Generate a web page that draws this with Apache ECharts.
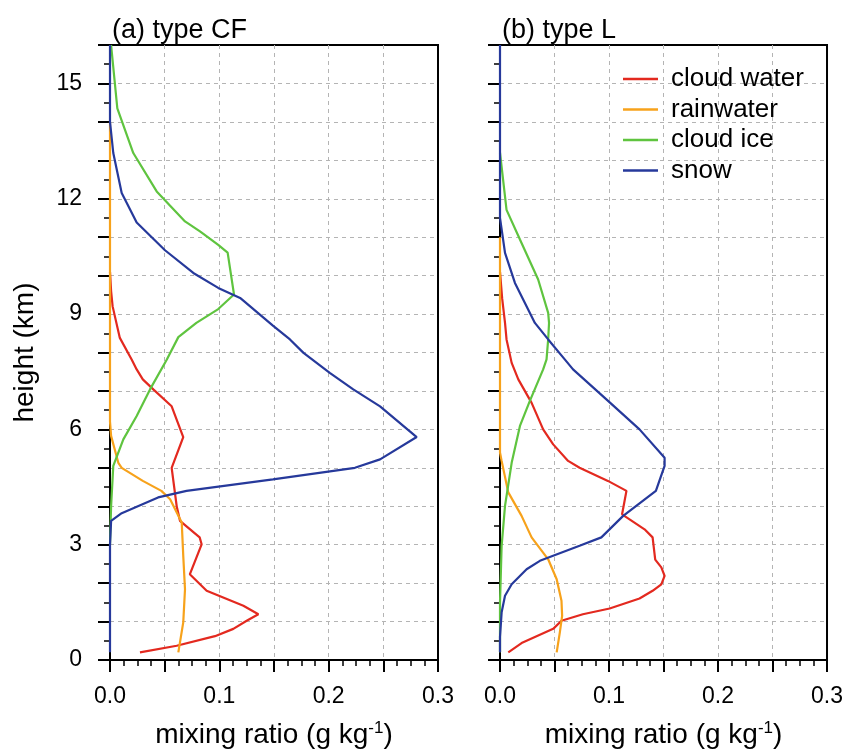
<!DOCTYPE html>
<html>
<head>
<meta charset="utf-8">
<script src="https://cdn.jsdelivr.net/npm/echarts@6/dist/echarts.min.js"></script>
<style>
  html, body { margin: 0; padding: 0; background: #fff; }
  #main { width: 846px; height: 754px; }
</style>
</head>
<body>
<div id="main"></div>
<script>
// [mixing ratio (g/kg), height (km)], top to bottom
var cfWater = [[0,10.1],[0.001,9.6],[0.0024,9.2],[0.009,8.38],[0.0198,7.82],[0.0244,7.56],[0.030,7.3],[0.0396,7.04],[0.0564,6.6],[0.067,5.8],[0.0564,5.0],[0.061,4.0],[0.064,3.62],[0.082,3.19],[0.0838,3.01],[0.073,2.23],[0.0884,1.80],[0.122,1.41],[0.1357,1.19],[0.125,1.02],[0.1128,0.81],[0.096,0.62],[0.061,0.37],[0.0274,0.20]];
var cfRain = [[0,14],[0,6.2],[0.001,5.83],[0.0076,5.13],[0.0107,5.0],[0.030,4.66],[0.047,4.40],[0.055,4.18],[0.0656,3.58],[0.067,2.71],[0.0686,1.84],[0.067,0.98],[0.0625,0.20]];
var cfIce = [[0.001,16],[0.0067,14.35],[0.0213,13.19],[0.0427,12.19],[0.0686,11.41],[0.0823,11.15],[0.099,10.8],[0.1076,10.6],[0.1134,9.51],[0.099,9.13],[0.079,8.77],[0.0625,8.4],[0.052,7.82],[0.0366,7.04],[0.0244,6.35],[0.0122,5.74],[0.003,5.05],[0.001,4.0],[0,3.0]];
var cfSnow = [[0,16],[0,14.0],[0.003,13.19],[0.0107,12.15],[0.0244,11.38],[0.0503,10.66],[0.0762,10.07],[0.099,9.68],[0.119,9.42],[0.149,8.7],[0.1646,8.34],[0.177,7.99],[0.201,7.47],[0.2225,7.04],[0.247,6.6],[0.2805,5.8],[0.247,5.22],[0.224,5.0],[0.149,4.70],[0.070,4.40],[0.044,4.23],[0.0107,3.82],[0.001,3.62],[0,3.0],[0,0.2]];

var lWater = [[0,10.1],[0.002,9.4],[0.0046,8.77],[0.006,8.34],[0.0107,7.73],[0.0168,7.3],[0.029,6.69],[0.0396,6.0],[0.0488,5.61],[0.0625,5.18],[0.073,5.0],[0.099,4.66],[0.116,4.40],[0.112,3.79],[0.1326,3.40],[0.140,3.19],[0.1424,2.61],[0.148,2.41],[0.151,2.19],[0.148,1.97],[0.140,1.80],[0.128,1.60],[0.1006,1.34],[0.076,1.19],[0.0564,1.02],[0.0488,0.81],[0.0198,0.44],[0.0076,0.20]];
var lRain = [[0,11],[0,5.4],[0.0015,5.18],[0.0076,4.36],[0.0198,3.75],[0.029,3.19],[0.0442,2.62],[0.052,2.10],[0.0564,1.54],[0.057,1.15],[0.0549,0.72],[0.052,0.20]];
var lIce = [[0,13.2],[0.006,11.71],[0.0183,10.94],[0.035,9.9],[0.0442,9.03],[0.045,8.77],[0.0442,8.34],[0.0427,7.82],[0.0396,7.56],[0.0274,6.74],[0.0183,6.09],[0.0107,5.13],[0.0046,4.01],[0.0015,2.97],[0,1.5],[0,0.2]];
var lSnow = [[0,16],[0,11.5],[0.0046,10.59],[0.0137,9.81],[0.032,8.77],[0.0442,8.34],[0.0594,7.82],[0.067,7.56],[0.0976,6.78],[0.128,6.0],[0.151,5.26],[0.151,5.05],[0.143,4.40],[0.113,3.75],[0.093,3.19],[0.073,2.97],[0.0366,2.58],[0.0244,2.36],[0.0107,1.97],[0.0046,1.67],[0.0015,1.24],[0,0.6],[0,0.2]];

var names = ['cloud water', 'rainwater', 'cloud ice', 'snow'];
var colors = ['#e3291f', '#f7a21b', '#5fc43f', '#26399b'];
var titles = ['(a) type CF', '(b) type L'];

var font = 'Liberation Sans, Helvetica, Arial, sans-serif';

function xAxisFor(idx) {
	return {
		type: 'value',
		gridIndex: idx,
		min: 0,
		max: 0.3,
		interval: 0.05,
		name: 'mixing ratio (g kg{sup|-1})',
		nameLocation: 'middle',
		nameGap: 60,
		nameTextStyle: {
			fontFamily: font, fontSize: 28, color: '#000',
			rich: { sup: { fontFamily: font, fontSize: 17, color: '#000', padding: [0, 0, 13, 0] } }
		},
		axisLine: { show: true, onZero: false, lineStyle: { color: '#000', width: 2 } },
		axisTick: { show: true, length: 12, lineStyle: { color: '#000', width: 2 } },
		minorTick: { show: true, splitNumber: 4, length: 6, lineStyle: { color: '#000', width: 1.5 } },
		splitLine: { show: true, showMinLine: false, showMaxLine: false, lineStyle: { color: '#b4b4b4', width: 1, type: [4, 4] } },
		axisLabel: {
			fontFamily: font, fontSize: 23, color: '#000', margin: 25,
			showMaxLabel: true,
			formatter: function (v) {
				var k = Math.round(v * 20);
				return k % 2 === 0 ? (k / 20).toFixed(1) : '';
			}
		}
	};
}

function yAxisFor(idx) {
	return {
		type: 'value',
		gridIndex: idx,
		min: 0,
		max: 16,
		interval: 1,
		name: idx === 0 ? 'height (km)' : '',
		nameLocation: 'middle',
		nameGap: 71,
		nameTextStyle: { fontFamily: font, fontSize: 28, color: '#000' },
		axisLine: { show: true, onZero: false, lineStyle: { color: '#000', width: 2 } },
		axisTick: { show: true, length: 12, lineStyle: { color: '#000', width: 2 } },
		minorTick: { show: true, splitNumber: 2, length: 6, lineStyle: { color: '#000', width: 1.5 } },
		splitLine: { show: true, showMinLine: false, showMaxLine: false, lineStyle: { color: '#b4b4b4', width: 1, type: [4, 4] } },
		axisLabel: {
			show: idx === 0,
			fontFamily: font, fontSize: 23, color: '#000', margin: 28,
			formatter: function (v) {
				return (v % 3 === 0 && v < 16) ? String(v) : '';
			}
		}
	};
}

var panels = [[cfWater, cfRain, cfIce, cfSnow], [lWater, lRain, lIce, lSnow]];
var series = [];
for (var p = 0; p < 2; p++) {
	for (var s = 0; s < 4; s++) {
		series.push({
			name: names[s],
			type: 'line',
			xAxisIndex: p,
			yAxisIndex: p,
			data: panels[p][s],
			symbol: 'none',
			silent: true,
			animation: false,
			lineStyle: { color: colors[s], width: 2.2 },
			itemStyle: { color: colors[s] }
		});
	}
}

var myChart = echarts.init(document.getElementById('main'));
myChart.setOption({
	backgroundColor: '#fff',
	animation: false,
	title: [
		{ text: titles[0], left: 107, top: 12, textStyle: { fontFamily: font, fontSize: 27, fontWeight: 'normal', color: '#000' } },
		{ text: titles[1], left: 497, top: 12, textStyle: { fontFamily: font, fontSize: 27, fontWeight: 'normal', color: '#000' } }
	],
	legend: {
		data: names.map(function (n) { return { name: n, icon: 'rect' }; }),
		orient: 'vertical',
		left: 618,
		top: 61,
		itemWidth: 35,
		itemHeight: 2.5,
		itemGap: 4.5,
		selectedMode: false,
		textStyle: { fontFamily: font, fontSize: 26, lineHeight: 26, color: '#000', padding: [0, 0, 0, 8] }
	},
	grid: [
		{ left: 110, top: 45, width: 328, height: 616, show: true, borderColor: '#000', borderWidth: 2 },
		{ left: 500, top: 45, width: 328, height: 616, show: true, borderColor: '#000', borderWidth: 2 }
	],
	xAxis: [xAxisFor(0), xAxisFor(1)],
	yAxis: [yAxisFor(0), yAxisFor(1)],
	series: series
});
</script>
</body>
</html>
